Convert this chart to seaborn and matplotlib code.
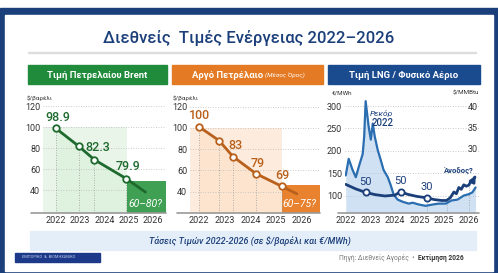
import numpy as np
import pandas as pd
import matplotlib.pyplot as plt
from matplotlib.patches import Rectangle
import seaborn as sns

# ---- data ----
year_ticks = [2022, 2023, 2024, 2025, 2026]

brent_years = [2022.0, 2022.94, 2023.59, 2024.9, 2025.7]
brent_price = [99, 82, 69, 51, 38]
brent_labels = ["98.9", "82.3", "", "79.9", ""]

crude_years = [2022.0, 2022.78, 2023.32, 2024.21, 2025.22, 2025.8]
crude_price = [101, 88, 73, 57, 45, 38]
crude_labels = ["100", "", "83", "79", "69", ""]

gas_ticklabels = ["2022", "2023", "2024", "2025", "2025", "2026"]
spot_x = [0, 0.12, 0.28, 0.41, 0.53, 0.69, 0.75, 0.81, 0.93, 1.02, 1.1, 1.18, 1.3, 1.42,
          1.54, 1.71, 1.83, 1.95, 2.11, 2.32, 2.56, 2.72, 2.97, 3.25, 3.54, 3.78, 4.07,
          4.3, 4.55, 4.8, 5.0, 5.15, 5.28]
spot_y = [145, 182, 157, 141, 164, 193, 232, 311, 255, 225, 261, 232, 202, 180,
          157, 141, 123, 102, 91, 86, 82, 84, 80, 77, 80, 82, 82,
          89, 91, 100, 103, 107, 118]
trend_x = [0, 0.4, 0.81, 1.2, 1.6, 2.0, 2.24, 2.5, 2.9, 3.29, 3.6, 3.9, 4.1, 4.25, 4.4,
           4.5, 4.6, 4.7, 4.8, 4.9, 5.0, 5.1, 5.2]
trend_y = [125, 115, 107, 102, 99, 101, 109, 103, 98, 95, 91, 89, 89, 95, 108,
           104, 118, 114, 124, 121, 123, 132, 136]
gas_mark_x = [0.81, 2.24, 3.29]
gas_mark_y = [107, 109, 95]
gas_mark_labels = ["50", "50", "30"]

# ---- style ----
sns.set_theme(style="white")
plt.rcParams["font.family"] = ["Roboto", "DejaVu Sans"]

W, H = 498, 273
NAVY = "#1b3f7a"
GREEN_HDR, GREEN_LINE, GREEN_BOX = "#1f8b3b", "#1e6a2e", "#3f9f52"
ORANGE_HDR, ORANGE_LINE, ORANGE_BOX = "#e47b24", "#b8601c", "#e8822f"
BLUE_HDR, BLUE_SPOT = "#1b4b8f", "#2a6db0"
TICK = "#333333"

fig = plt.figure(figsize=(W / 100, H / 100), dpi=100)
fig.patch.set_facecolor("white")


def frect(x0, y0, x1, y1, zorder=-1, **kw):
    fig.patches.append(Rectangle((x0 / W, 1 - y1 / H), (x1 - x0) / W, (y1 - y0) / H,
                                 transform=fig.transFigure, zorder=zorder, **kw))


def ftext(x, y, s, **kw):
    fig.text(x / W, 1 - y / H, s, **kw)


def axes_px(l, t, r, b):
    ax = fig.add_axes([l / W, 1 - b / H, (r - l) / W, (b - t) / H])
    ax.set_facecolor("none")
    ax.set_zorder(2)
    for s in ax.spines.values():
        s.set_visible(False)
    ax.tick_params(length=0, labelsize=6.5, colors=TICK, pad=2)
    return ax


# frame
frect(0, 8, W, H, color=NAVY, zorder=-3)
frect(5, 15, W - 5, H - 2, color="white", zorder=-2)
ftext(W / 2, 38, "Διεθνείς  Τιμές Ενέργειας 2022–2026", ha="center", va="center",
      fontsize=12, color=NAVY, fontweight="medium")
frect(28, 51.5, 476, 52.5, color="#dddddd")

# headers
frect(28, 65, 167, 84, color=GREEN_HDR)
ftext(97, 75, "Τιμή Πετρελαίου Brent", ha="center", va="center", color="white",
      fontsize=6.8, fontweight="bold")
frect(172, 65, 323, 84, color=ORANGE_HDR)
ftext(265, 75, "Αργό Πετρέλαιο ", ha="right", va="center", color="white",
      fontsize=6.8, fontweight="bold")
ftext(265, 75.5, "(Μέσος Όρος)", ha="left", va="center", color="white",
      fontsize=4.6, style="italic")
frect(328, 65, 480, 84, color=BLUE_HDR)
ftext(404, 75, "Τιμή LNG / Φυσικό Αέριο", ha="center", va="center", color="white",
      fontsize=6.8, fontweight="bold")


def oil_panel(ax, years, prices, labels, offsets, line_c, light_c, box_c, box_x0,
              box_top, box_text, ylabel_x):
    x0, x1 = ax.get_xlim()
    y0 = ax.get_ylim()[0]
    ax.fill_between([x0, box_x0], y0, 100, color=light_c, alpha=0.45, lw=0, zorder=0)
    ax.fill_between(years, y0, prices, color=light_c, alpha=0.35, lw=0, zorder=0)
    ax.fill_between([box_x0, x1], y0, box_top, color=box_c, lw=0, zorder=1)
    for v in [40, 60, 80, 100, 120]:
        ax.axhline(v, color="#bbbbbb", lw=0.6, ls=(0, (1, 2)), zorder=0)
    ax.vlines(years[:-1], y0, prices[:-1], color="#999999", lw=0.6, ls=(0, (1, 2)), zorder=1)
    sns.lineplot(x=years, y=prices, ax=ax, color=line_c, lw=2, zorder=3)
    sns.scatterplot(x=years[:-1], y=prices[:-1], ax=ax, color="white", edgecolor=line_c,
                    linewidth=1.3, s=22, zorder=4)
    for xv, yv, lab, off in zip(years, prices, labels, offsets):
        if lab:
            ax.annotate(lab, (xv, yv), xytext=off, textcoords="offset points",
                        ha="center", va="center", fontsize=9, color=line_c,
                        fontweight="medium")
    ax.text(0.97, 0.08, box_text, transform=ax.transAxes, ha="right", va="center",
            fontsize=7.5, color="white", style="italic")
    ax.axhline(y0, xmin=-0.1, xmax=1, color="#999999", lw=1.2, clip_on=False, zorder=5)
    ax.set_xticks(year_ticks)
    ax.set_xticklabels([str(y) for y in year_ticks])
    ax.set_yticks([40, 60, 80, 100, 120])
    ax.set_xlabel("")
    ax.set_ylabel("")
    ftext(ylabel_x, 98, "$/βαρέλι", fontsize=4.5, color=TICK, va="center")


ax1 = axes_px(43, 98, 166, 213)
ax1.set_xlim(2021.47, 2026.55)
ax1.set_ylim(18, 128)
oil_panel(ax1, brent_years, brent_price, brent_labels,
          [(1.5, 8), (14, -1), (0, 0), (1.5, 8.5), (0, 0)],
          GREEN_LINE, "#cfeacf", GREEN_BOX, 2024.94, 49, "60–80?", 27)

ax2 = axes_px(190, 98, 320, 213)
ax2.set_xlim(2021.65, 2026.7)
ax2.set_ylim(20, 128)
oil_panel(ax2, crude_years, crude_price, crude_labels,
          [(0, 8), (0, 0), (1.5, 8), (1, 7.5), (0, 8), (0, 0)],
          ORANGE_LINE, "#fcd7b4", ORANGE_BOX, 2025.22, 46, "60–75?", 173)

# gas panel
ax3 = axes_px(345, 98, 479, 213)
ax3.set_xlim(-0.03, 5.42)
ax3.set_ylim(61, 318)
for v in [100, 150, 200, 250, 300]:
    ax3.axhline(v, color="#bbbbbb", lw=0.6, ls=(0, (1, 2)), zorder=0)
ax3.fill_between(spot_x, 61, spot_y, color="#a9c9ea", alpha=0.55, lw=0, zorder=1)
ax3.vlines([3.29, 4.1, 5.0], 61, [95, 89, 123], color="#999999", lw=0.6,
           ls=(0, (1, 2)), zorder=1)
sns.lineplot(x=spot_x, y=spot_y, ax=ax3, color=BLUE_SPOT, lw=1.6, zorder=2)
sns.lineplot(x=trend_x, y=trend_y, ax=ax3, color=NAVY, lw=2, zorder=3)
ax3.annotate("", xy=(5.34, 150), xytext=(5.2, 136),
             arrowprops=dict(arrowstyle="-|>", color=NAVY, lw=2, mutation_scale=8))
sns.scatterplot(x=gas_mark_x, y=gas_mark_y, ax=ax3, color="white", edgecolor=NAVY,
                linewidth=1.3, s=20, zorder=4)
for xv, yv, lab in zip(gas_mark_x, gas_mark_y, gas_mark_labels):
    ax3.annotate(lab, (xv, yv), xytext=(0, 7.5), textcoords="offset points",
                 ha="center", va="center", fontsize=8, color=NAVY)
ax3.text(1.45, 283, "Ρεκόρ", ha="center", va="center", fontsize=6, color=NAVY,
         style="italic")
ax3.text(1.5, 262, "2022", ha="center", va="center", fontsize=7, color=NAVY,
         fontweight="medium")
ax3.text(4.6, 153, "Άνοδος?", ha="center", va="center", fontsize=5.5, color=NAVY,
         fontweight="bold")
ax3.axhline(61, xmin=-0.05, xmax=1, color="#999999", lw=1.2, clip_on=False, zorder=5)
ax3.set_xticks(range(len(gas_ticklabels)))
ax3.set_xticklabels(gas_ticklabels)
ax3.set_yticks([100, 150, 200, 250, 300])
ax3.set_xlabel("")
ax3.set_ylabel("")

ax3r = ax3.twinx()
for s in ax3r.spines.values():
    s.set_visible(False)
ax3r.set_ylim(30 + (61 - 205) / 9.5, 30 + (318 - 205) / 9.5)
ax3r.set_yticks([30, 35, 40])
ax3r.tick_params(length=0, labelsize=6.5, colors=TICK, pad=-1)
for lab in ax3r.get_yticklabels():
    lab.set_ha("right")
ax3r.grid(False)
ftext(332, 93, "€/MWh", fontsize=4.5, color=TICK, va="center")
ftext(479, 93, "$/MMBtu", fontsize=4.5, color=TICK, va="center", ha="right")

# bottom band
frect(30, 231, 476, 250, color="#e4eef8")
ftext(250, 241, "Τάσεις Τιμών 2022-2026 (σε $/βαρέλι και €/MWh)", ha="center",
      va="center", fontsize=6.5, color=NAVY, style="italic", fontweight="medium")
frect(15, 253, 100, 262, color="#1d3a8a")
ftext(22, 257.5, "ΕΜΠΟΡΙΚΟ  &  ΒΙΟΜΗΧΑΝΙΚΟ", fontsize=2.8, color="#c8d4f0", va="center")
ftext(418, 258, "Πηγή: Διεθνείς Αγορές  •  ", ha="right", va="center", fontsize=4.8,
      color="#777777")
ftext(418, 258, "Εκτίμηση 2026", ha="left", va="center", fontsize=4.8, color="#333333",
      fontweight="bold")

fig.savefig("out.png", dpi=100)
